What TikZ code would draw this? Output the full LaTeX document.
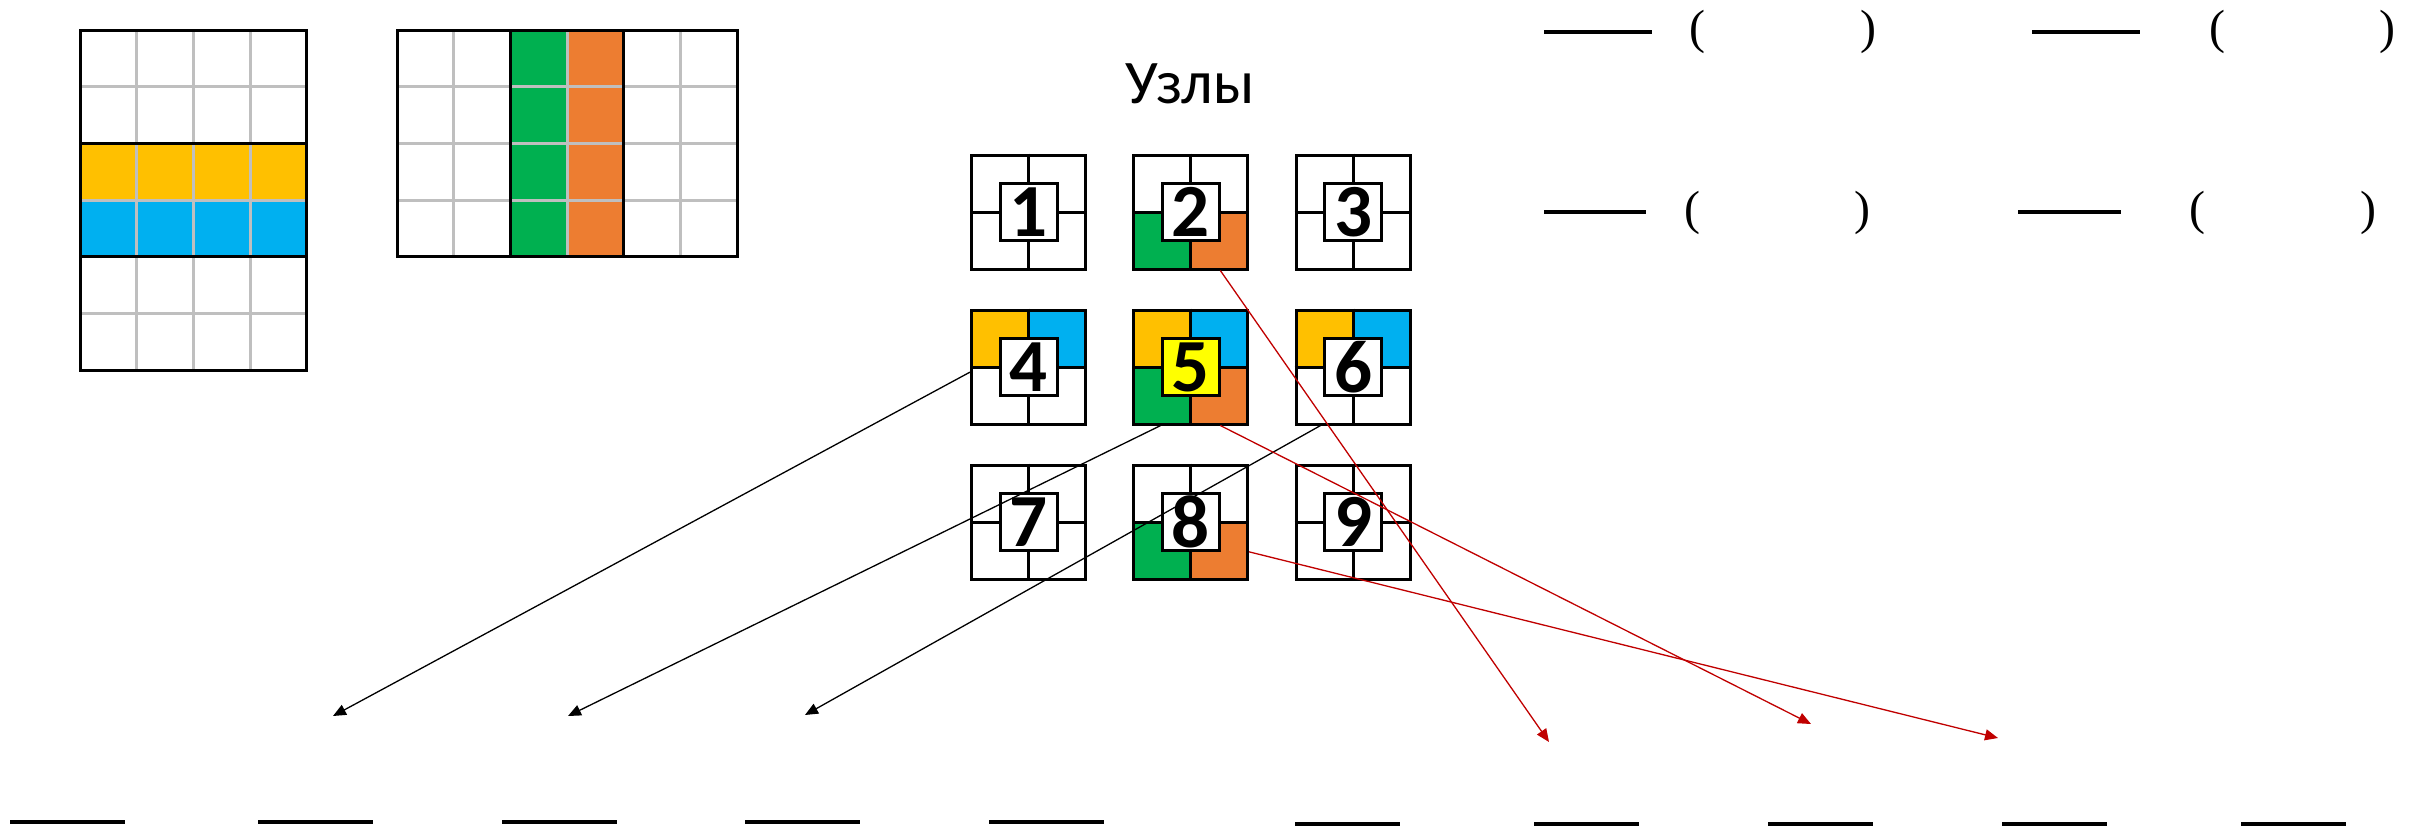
\documentclass[tikz,border=0pt]{standalone}
\usepackage{fontspec}
\setmainfont{Carlito}
\newfontfamily\parenfont{Liberation Serif}
\usetikzlibrary{arrows.meta}
\definecolor{cY}{HTML}{FFC000}
\definecolor{cB}{HTML}{00B0F0}
\definecolor{cG}{HTML}{00B050}
\definecolor{cO}{HTML}{ED7D31}
\definecolor{cL}{HTML}{FFFF00}
\definecolor{cGrey}{HTML}{BFBFBF}
\definecolor{cRed}{HTML}{C00000}
\tikzset{
  sq/.style={draw, line width=3pt, minimum size=114pt, inner sep=0pt},
  lbl/.style={draw, line width=3pt, fill=white, minimum size=57pt, inner sep=0pt,
              font=\fontsize{75pt}{75pt}\selectfont\bfseries},
  topc/.style={path picture={
     \fill[cY] (path picture bounding box.north west) rectangle (path picture bounding box.center);
     \fill[cB] (path picture bounding box.north east) rectangle (path picture bounding box.center);}},
  botc/.style={path picture={
     \fill[cG] (path picture bounding box.south west) rectangle (path picture bounding box.center);
     \fill[cO] (path picture bounding box.south east) rectangle (path picture bounding box.center);}},
  allc/.style={path picture={
     \fill[cY] (path picture bounding box.north west) rectangle (path picture bounding box.center);
     \fill[cB] (path picture bounding box.north east) rectangle (path picture bounding box.center);
     \fill[cG] (path picture bounding box.south west) rectangle (path picture bounding box.center);
     \fill[cO] (path picture bounding box.south east) rectangle (path picture bounding box.center);}},
  blk/.style={-{Triangle[length=13pt,width=11pt]}, line width=1.3pt, black},
  redarr/.style={-{Triangle[length=13pt,width=11pt]}, line width=1.3pt, cRed},
  gline/.style={cGrey, line width=3pt},
  bline/.style={black, line width=3pt},
  blank/.style={black, line width=3.5pt},
  bar/.style={black, line width=4pt},
  par/.style={inner sep=0pt, font=\parenfont\fontsize{48pt}{48pt}\selectfont},
}
\begin{document}
\begin{tikzpicture}[x=1pt,y=-1pt]
\useasboundingbox (0,0) rectangle (2423,827);

% ---- left grid (4 x 6)
\fill[cY] (80,143.4) rectangle (306.8,200.1);
\fill[cB] (80,200.1) rectangle (306.8,256.8);
\foreach \i in {1,2,3} \draw[gline] (80+56.7*\i,30) -- (80+56.7*\i,370.2);
\foreach \j in {1,...,5} \draw[gline] (80,30+56.7*\j) -- (306.8,30+56.7*\j);
\draw[bline] (80,143.4) -- (306.8,143.4) (80,256.8) -- (306.8,256.8);
\draw[bline] (80,30) rectangle (306.8,370.2);

% ---- right grid (6 x 4)
\fill[cG] (510.4,30) rectangle (567.1,256.8);
\fill[cO] (567.1,30) rectangle (623.8,256.8);
\foreach \i in {1,...,5} \draw[gline] (397+56.7*\i,30) -- (397+56.7*\i,256.8);
\foreach \j in {1,2,3} \draw[gline] (397,30+56.7*\j) -- (737.2,30+56.7*\j);
\draw[bline] (510.4,30) -- (510.4,256.8) (623.8,30) -- (623.8,256.8);
\draw[bline] (397,30) rectangle (737.2,256.8);

% ---- title
\node (title) at (1190,84) {\fontsize{62pt}{62pt}\selectfont Узлы};

% ---- node squares
\node[sq] (n1) at (1028.5,212) {};
\node[sq, botc] (n2) at (1190.5,212) {};
\node[sq] (n3) at (1353,212) {};
\node[sq, topc] (n4) at (1028.5,367) {};
\node[sq, allc] (n5) at (1190.5,367) {};
\node[sq, topc] (n6) at (1353,367) {};
\node[sq] (n7) at (1028.5,522) {};
\node[sq, botc] (n8) at (1190.5,522) {};
\node[sq] (n9) at (1353,522) {};
\foreach \n in {n1,n2,n3,n4,n5,n6,n7,n8,n9}
  \draw[bline] (\n.north) -- (\n.south) (\n.west) -- (\n.east);
\node[lbl] (l1) at (n1) {1};
\node[lbl] (l2) at (n2) {2};
\node[lbl] (l3) at (n3) {3};
\node[lbl] (l4) at (n4) {4};
\node[lbl, fill=cL] (l5) at (n5) {5};
\node[lbl] (l6) at (n6) {6};
\node[lbl] (l7) at (n7) {7};
\node[lbl] (l8) at (n8) {8};
\node[lbl] (l9) at (n9) {9};

% ---- arrows
\coordinate (t1) at (333,716);
\coordinate (t2) at (568,716);
\coordinate (t3) at (805,715);
\coordinate (r1) at (1549,742);
\coordinate (r2) at (1811,724);
\coordinate (r3) at (1998,738);
\draw[blk] (n4.185) -- (t1);
\draw[blk] (n5.243) -- (t2);
\draw[blk] (n6.241) -- (t3);
\draw[redarr] (n2.297) -- (r1);
\draw[redarr] (n5.297) -- (r2);
\draw[redarr] (n8.333) -- (r3);

% ---- top-right blanks
\draw[blank] (1544,32) -- (1652,32);
\draw[blank] (2032,32) -- (2140,32);
\draw[blank] (1544,212) -- (1646,212);
\draw[blank] (2018,212) -- (2121,212);
\node[par] (p1) at (1697,32) {(};
\node[par] (p2) at (1868,32) {)};
\node[par] (p3) at (2217,32) {(};
\node[par] (p4) at (2387,32) {)};
\node[par] (p5) at (1692,213) {(};
\node[par] (p6) at (1862,213) {)};
\node[par] (p7) at (2197,213) {(};
\node[par] (p8) at (2368,213) {)};

% ---- bottom blanks
\foreach \a in {10,258,502,745,989} \draw[bar] (\a,822) -- (\a+115,822);
\foreach \a in {1295,1534,1768,2002,2241} \draw[bar] (\a,824) -- (\a+105,824);
\end{tikzpicture}
\end{document}
